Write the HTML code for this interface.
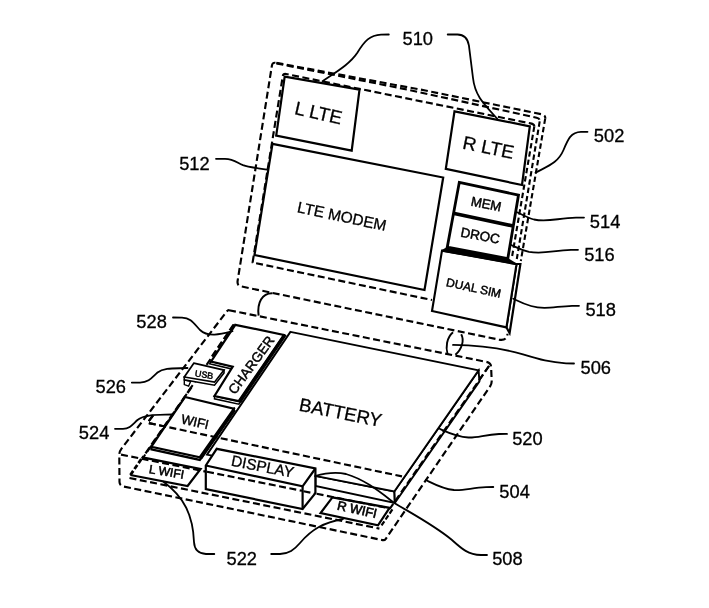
<!DOCTYPE html>
<html>
<head>
<meta charset="utf-8">
<title>Figure 5</title>
<style>
html,body{margin:0;padding:0;background:#fff;}
body{width:709px;height:608px;overflow:hidden;}
svg{display:block;will-change:transform;}
text{font-family:"Liberation Sans",Arial,Helvetica,sans-serif;fill:#000;stroke:#000;stroke-width:0.3;}
.s{fill:none;stroke:#000;stroke-width:2.2;stroke-linejoin:miter;stroke-linecap:butt;}
.w{fill:#fff;stroke:#000;stroke-width:2.2;stroke-linejoin:miter;}
.d{fill:none;stroke:#000;stroke-width:2.15;stroke-dasharray:7 3.5;stroke-linejoin:round;}
.l{fill:none;stroke:#000;stroke-width:1.8;stroke-linecap:round;}
.n{font-size:18.3px;stroke-width:0.12;}
.b{stroke-width:0.45;}
</style>
</head>
<body>
<svg width="709" height="608" viewBox="0 0 709 608">
<rect x="0" y="0" width="709" height="608" fill="#fff"/>

<!-- ================= TOP PANEL 502 ================= -->
<g id="top-panel">
  <!-- outer dashed outline -->
  <path class="d" d="M276.4,62.9 L425.4,90.5 L541.4,114.2 Q545.8,115 545.2,118.6"/>
  <path class="d" style="stroke-dasharray:5.4 3;stroke-width:2.1" d="M545.2,118.6 L520.8,261"/>
  <path class="d" d="M275.4,62.8 Q272.4,62.3 271.9,65.6 L237.6,281 Q237,285.6 241,286.4 L499,339.6 Q507,341 507.5,333.7"/>
  <!-- middle dashed (panel thickness) -->
  <path class="d" d="M276.4,63.4 L404,88.9 L536.6,117.7 Q540.2,118.5 539.7,121.4"/>
  <path class="d" style="stroke-dasharray:5.4 3;stroke-width:2.1" d="M539.7,121.4 L516.8,259"/>
  <!-- inner dashed -->
  <path class="d" style="stroke-dasharray:5.4 3;stroke-width:2.1" d="M534.3,126.5 L512,257"/>
  <path class="d" d="M534.3,126.5 Q534.5,124.2 530.5,123.4 L286,74 Q283.2,73.4 282.8,76 L252.6,262.5 L432,300"/>

  <!-- L LTE -->
  <polygon class="w" points="284.7,76.6 359.5,89.7 351.7,150.6 276.2,135.6"/>
  <!-- LTE MODEM -->
  <polygon class="w" points="272.5,143.8 443.2,177.5 424.5,290 254.5,255"/>
  <!-- R LTE -->
  <polygon class="w" points="454.5,111.3 529.8,126.3 522,185 445.8,168.8"/>
  <!-- MEM / DROC -->
  <polygon class="w" style="stroke-width:2.8" points="459.3,182.3 518.5,195.1 507.8,258.6 447.3,247"/>
  <line x1="453.2" y1="213.2" x2="513.2" y2="226" stroke="#000" stroke-width="3.6"/>
  <!-- DUAL SIM -->
  <polygon class="w" points="516.5,264 520.4,264 509.6,333 506.4,327.4"/>
  <polygon class="w" style="stroke-width:2.1" points="442,250.6 516.5,264.2 506.4,327.4 432,311"/>
  <polygon fill="#000" points="446.2,247.6 508.6,258.4 516.8,263.6 516.6,265 441.4,251.4 441.8,250"/>

  <text transform="translate(293.7,114) rotate(12.8)" font-size="18.7">L LTE</text>
  <text transform="translate(461.8,148.5) rotate(11.6)" font-size="18.8">R LTE</text>
  <text transform="translate(296.4,212.1) rotate(12)" font-size="15.45">LTE MODEM</text>
  <text class="b" transform="translate(470.2,205.4) rotate(11.5)" font-size="13.2">MEM</text>
  <text class="b" transform="translate(460,236.6) rotate(10.5)" font-size="13.4">DROC</text>
  <text class="b" transform="translate(445.6,286) rotate(12.3)" font-size="11.9">DUAL SIM</text>
</g>

<!-- ================= HINGES 506 ================= -->
<path class="s" style="stroke-width:2" d="M272.5,293.3 C262,293 257,303 258.6,315.6"/>
<path class="s" style="stroke-width:1.9" d="M453,332.3 C446.5,338 445.5,347 447.6,354.3"/>
<path class="s" style="stroke-width:1.9" d="M461.2,334.2 C464.5,340 462,349 455.4,354.8"/>

<!-- ================= BOTTOM PANEL 504 ================= -->
<g id="bottom-panel">
  <!-- outer dashed box silhouette -->
  <path class="d" d="M229,310.2 L486,361.8 Q491,362.8 491.1,367 L491.7,381 Q491.8,384 490,386.5 L385.8,538.8 Q384.6,540.6 382.5,540.1 L124,486.6 Q119.6,485.8 119.5,482 L119.3,455 Q119.3,451.5 121.5,448.6 L226,312.5 Q227.6,310 229,310.2"/>
  <!-- top front edge -->
  <path class="d" d="M121,454.6 L390,508.5 L489,366"/>
  <!-- line between L WIFI and R WIFI -->
  <path class="d" d="M129.5,478 L379.4,528.6"/>
  <!-- inner dashed line -->
  <path class="d" d="M153,415.5 L147.5,422.8 L402,476.4"/>
  <!-- dashed collinear with charger / wifi left edge -->
  <path class="d" style="stroke-width:2" d="M234.2,324.5 L142.5,458.5"/>

  <!-- L WIFI / R WIFI -->
  <polyline class="s" points="142.5,457.3 200.6,469 187.6,486 130.4,475"/>
  <line x1="130.4" y1="475" x2="142.5" y2="457.3" stroke="#000" stroke-width="2.8" stroke-dasharray="5 2.2"/>
  <polygon class="s" points="332.4,497.4 389.6,507.8 378,525.3 320.6,513"/>
  <line x1="392.4" y1="509.4" x2="380.6" y2="526.8" stroke="#000" stroke-width="2.2" stroke-dasharray="5 2.2"/>

  <!-- WIFI plate -->
  <polygon class="w" points="151.4,449.4 199.8,459.9 233.8,411.5 233.8,408.8 151.4,446.7"/>
  <polygon class="w" points="185.1,397 233.8,408.8 199.8,457.2 151.4,446.7"/>

  <!-- USB -->
  <polygon class="w" style="stroke-width:1.4" points="184.3,380 184.3,384.6 188.6,386.2 190.6,381.4"/>
  <polygon class="w" style="stroke-width:1.6" points="184.3,377 184.3,379.8 214.5,385.2 224,373 224,370.1"/>
  <polygon class="w" style="stroke-width:1.7" points="193.8,363.2 224,370.1 214.5,382.2 184.3,377"/>

  <!-- BATTERY -->
  <polygon class="w" style="stroke-width:1.9" points="394.3,491.5 478.6,370.4 479.4,381.4 394.8,503 315.5,486 315.5,475.7"/>
  <polygon class="w" style="stroke-width:1.9" points="290.4,331.9 478.6,370.4 394.3,491.5 207,454.6"/>
  <line class="s" x1="394.3" y1="491.5" x2="394.8" y2="503"/>

  <!-- CHARGER plate -->
  <polygon class="w" style="stroke-width:1.5" points="214.5,396 214.5,398.8 238.9,404.2 241,401 238.7,401.2"/>
  <polygon class="w" style="stroke-width:1.5" points="211.1,361.5 209.6,363.8 231,368.8 232.7,366.6"/>
  <polygon class="w" points="235.3,324.8 283.8,335 238.7,401.2 214.5,396 232.7,366.6 211.1,361.5"/>
  <line x1="285.2" y1="334.6" x2="239.6" y2="402" stroke="#000" stroke-width="3.4"/>
  <!-- thick edge wifi / battery -->
  <line x1="234.6" y1="409.6" x2="200.6" y2="458.6" stroke="#000" stroke-width="3"/>

  <!-- DISPLAY box -->
  <polygon class="w" points="205.8,465.5 205.8,489.2 302.6,509 315.4,493.2 315.4,468.5 216.7,448.8"/>
  <polyline class="s" points="205.8,465.5 302.6,486.3 315.4,468.5"/>
  <line class="s" x1="302.6" y1="486.3" x2="302.6" y2="509"/>
  <!-- dashed edges visible through display front -->
  <path class="d" d="M207,471.8 L302,490.8"/>
  <path class="d" d="M303.5,491.2 L314.5,493.4"/>

  <!-- re-draw dashed lines that overlay parts -->
  <path class="d" d="M153,415.5 L147.5,422.8 L402,476.4"/>
  <path class="d" style="stroke-width:2.4" d="M233.6,324.6 L210,359.5"/>
  <path class="d" style="stroke-width:2.4" d="M191.4,387.2 L142,458.5"/>
  <path class="d" d="M489,366 L394.5,502"/>

  <text transform="translate(298.3,410.5) rotate(11.3)" font-size="18.5">BATTERY</text>
  <text class="b" transform="translate(235,395.2) rotate(-53.8)" font-size="13.6">CHARGER</text>
  <text class="b" transform="translate(194.5,376.2) rotate(9)" font-size="9">USB</text>
  <text class="b" transform="translate(180.4,423.2) rotate(12.5)" font-size="13.2">WIFI</text>
  <text class="b" style="stroke-width:0.55" transform="translate(148.6,472.9) rotate(9.5)" font-size="12.1">L WIFI</text>
  <text class="b" style="stroke-width:0.6" transform="translate(336.4,509.4) rotate(12.5)" font-size="13">R WIFI</text>
  <text transform="translate(230.4,465.5) rotate(11.2)" font-size="15.3">DISPLAY</text>
</g>

<!-- ================= LEADER LINES ================= -->
<g id="leaders">
  <path class="l" d="M388.8,34.5 L381,34.6 C370,35 364.5,41 357.5,52.5 C350,64 336,72 322.5,81.2"/>
  <path class="l" d="M447.7,34.5 L457.5,34.5 C464,34.5 467.6,38 468.9,45.4 L473,78 C475,96 484,104 497.5,119"/>
  <path class="l" d="M587.5,131.8 L581,131.8 C571,132 568,139 563.5,150 C558,163 548,166 535.6,172.6"/>
  <path class="l" d="M216,158.8 L225,158.8 C234,159 237,162.8 243,165.2 C250,167.8 258,168 267,169.6"/>
  <path class="l" d="M584,217.6 L576,217.6 C558,218 548,222.5 534,219.5 C527,217.8 522,214.5 517,212.2"/>
  <path class="l" d="M578,249.8 L571,249.8 C553,250.5 543,254.6 529,251.8 C521,250 516,247.2 511.3,245"/>
  <path class="l" d="M579,305.8 L572,305.8 C555,306.4 545,310 531,306 C523,303.6 518,301 513.2,298.7"/>
  <path class="l" d="M574,363.5 L566,363.3 C550,362.5 540,359.5 523,354.4 C508,350 482,345.2 453,344.9"/>
  <path class="l" d="M507,433.9 L499,434 C485,434.6 478,437.8 468.5,437.5 C457,437 448,432.6 439.5,428.8"/>
  <path class="l" d="M493.3,487 L486,487.1 C472,487.8 464,490.6 454,490 C443,489 434,484 425.8,480"/>
  <path class="l" d="M487,555 L481,555 C468,554.6 462,549 452,540 C435,526 418,517 394.6,503.2 C380,492 365,479.5 346,474 C334,471.5 324,473.5 315,476"/>
  <path class="l" d="M173,317.5 L182,317.6 C191,318 193.5,323 200,330 C208,337.5 220,334.5 232.5,331.2"/>
  <path class="l" d="M131.8,382.6 L140,382.6 C149,382.4 152,377.5 157.5,372.5 C164,367.5 175,368.6 187.5,368"/>
  <path class="l" d="M115,428.8 L123,428.8 C130,428.6 132.5,424.5 137.5,420 C145,414 158,415 172.5,414.5"/>
  <path class="l" d="M214.3,554 L206,554 C198,553.6 194.4,550 194,542 C193,515 184,497 163.5,481.8"/>
  <path class="l" d="M271.2,554 L280,554 C289,553.6 294,550 300,543 C312,529 324,522.5 343,519"/>
</g>

<!-- ================= NUMBERS ================= -->
<g id="numbers" class="n">
  <text x="402.5" y="45.2">510</text>
  <text x="593.8" y="141.8">502</text>
  <text x="179.2" y="170">512</text>
  <text x="589.8" y="228">514</text>
  <text x="584.2" y="260.6">516</text>
  <text x="585.4" y="316">518</text>
  <text x="580.5" y="374.2">506</text>
  <text x="512.2" y="445">520</text>
  <text x="499.3" y="497.6">504</text>
  <text x="492.2" y="565">508</text>
  <text x="226.5" y="564.8">522</text>
  <text x="136.3" y="327.6">528</text>
  <text x="95.5" y="393">526</text>
  <text x="78.8" y="438.8">524</text>
</g>
</svg>
</body>
</html>
